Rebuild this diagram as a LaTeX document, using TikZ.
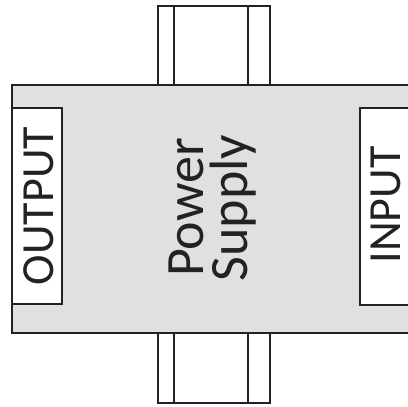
\documentclass[tikz,border=0pt]{standalone}
\usepackage{fontspec}
\setmainfont{Carlito}
\definecolor{bodygray}{HTML}{E0E0E0}
\definecolor{edgegray}{HTML}{222222}
\tikzset{
  part/.style={draw=edgegray, line width=1.6pt},
  port/.style={part, fill=white},
  label/.style={text=edgegray, inner sep=0pt, rotate=90, anchor=base}
}
\begin{document}
\begin{tikzpicture}[x=1pt, y=-1pt]
  \useasboundingbox (0,0) rectangle (408,407);
  \clip (0,0) rectangle (408,407);
  % upper and lower tabs
  \draw[port] (158,6) rectangle (270,85);
  \draw[part] (174,6) -- (174,85);
  \draw[part] (248,6) -- (248,85);
  \draw[port] (158,333) rectangle (270,403);
  \draw[part] (174,333) -- (174,403);
  \draw[part] (248,333) -- (248,403);
  % body
  \draw[part, fill=bodygray] (12,85) rectangle (420,333);
  % ports
  \draw[port] (12,108) rectangle (62,304);
  \draw[port] (360,108) rectangle (420,305);
  \node[label, font=\fontsize{46}{50}\selectfont] (output) at (53,206) {OUTPUT};
  \node[label, font=\fontsize{46}{50}\selectfont] (input) at (400,205) {INPUT};
  \node[label, font=\fontsize{54}{44}\selectfont] (power) at (203,207.5) {Power};
  \node[label, font=\fontsize{54}{44}\selectfont] (supply) at (247,208) {Supply};
\end{tikzpicture}
\end{document}
